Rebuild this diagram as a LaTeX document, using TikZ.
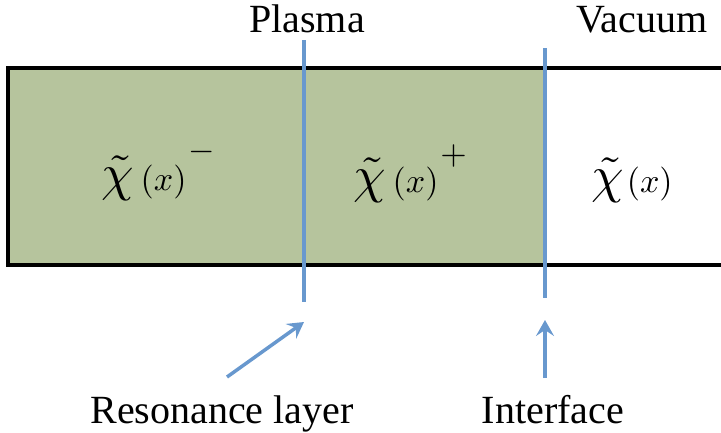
\documentclass[tikz,border=0pt]{standalone}
\usepackage{fontspec}
\setmainfont{Liberation Serif}
\usetikzlibrary{arrows.meta}
\definecolor{plasmagreen}{RGB}{182,196,157}
\definecolor{lineblue}{RGB}{104,152,206}
\tikzset{
  lbl/.style={font=\fontsize{40}{40}\selectfont, inner sep=0pt, anchor=base},
  chil/.style={inner sep=0pt, anchor=base},
  bluel/.style={draw=lineblue, line width=3.5pt},
  bluearrow/.style={draw=lineblue, line width=3.5pt, -{Stealth[length=16pt,width=18pt,inset=6pt]}},
}
\newcommand{\chibig}{\scalebox{5.2}{$\tilde{\chi}$}}
\newcommand{\argx}{\scalebox{3.4}{$(x)$}}
\newcommand{\supsign}[1]{\scalebox{3.4}{$#1$}}
\begin{document}
\begin{tikzpicture}[x=1pt,y=-1pt]
\useasboundingbox (0,0) rectangle (721,432);
% plasma fill
\fill[plasmagreen] (8,68) rectangle (543,265);
% band borders
\draw[line width=4pt, line cap=rect] (721,68) -- (8,68) -- (8,265) -- (721,265);
% vertical layers
\coordinate (rtop) at (304,40);
\coordinate (rbot) at (304,302);
\coordinate (itop) at (545,48);
\coordinate (ibot) at (545,298);
\draw[bluel] (rtop) -- (rbot);
\draw[bluel] (itop) -- (ibot);
% top labels
\node[lbl] (plasma) at (307,32) {Plasma};
\node[lbl] (vacuum) at (642,32) {Vacuum};
% chi labels
\node[chil] (chim) at (158,190) {\chibig\hspace{7pt}\argx\hspace{2pt}\raisebox{30pt}{\supsign{-}}};
\node[chil] (chip) at (410,192) {\chibig\hspace{7pt}\argx\hspace{2pt}\raisebox{28pt}{\supsign{+}}};
\node[chil] (chiv) at (632,192) {\chibig\hspace{3pt}\argx};
% bottom labels
\node[lbl] (reson) at (222,423) {Resonance layer};
\node[lbl] (inter) at (553,423) {Interface};
% arrows
\coordinate (rtail) at (227,377);
\coordinate (rhead) at (304,322);
\coordinate (itail) at (545,378);
\coordinate (ihead) at (545,320);
\draw[bluearrow] (rtail) -- (rhead);
\draw[bluearrow] (itail) -- (ihead);
\end{tikzpicture}
\end{document}
